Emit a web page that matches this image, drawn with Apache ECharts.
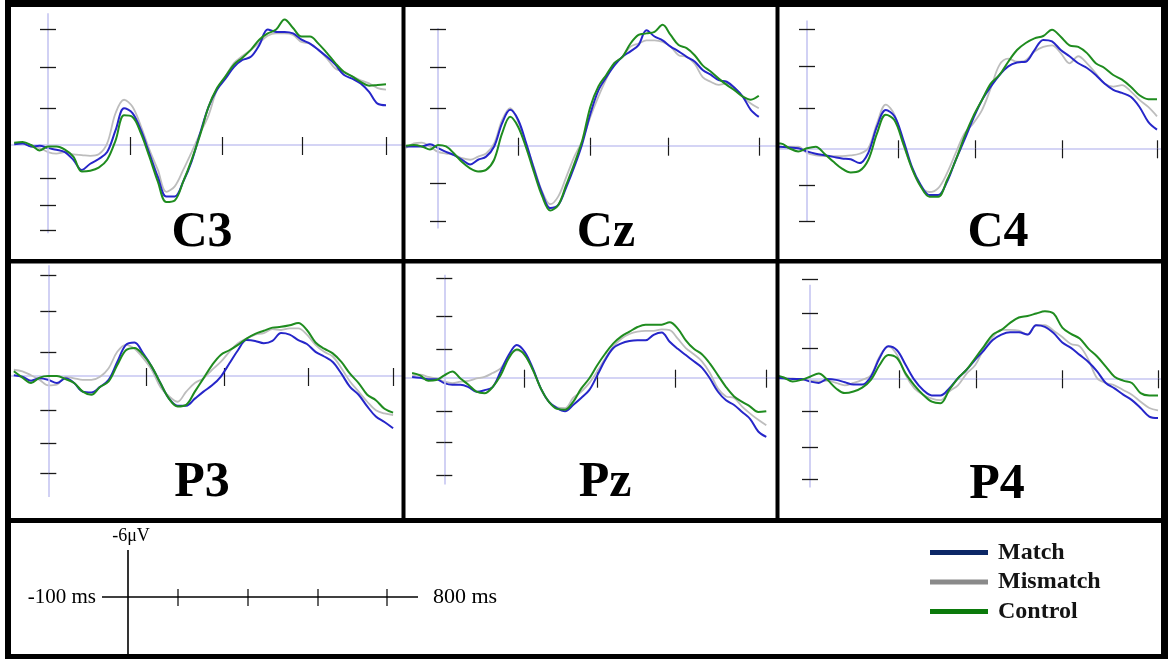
<!DOCTYPE html>
<html>
<head>
<meta charset="utf-8">
<script src="https://cdn.jsdelivr.net/npm/echarts@6/dist/echarts.min.js"></script>
<style>
  html, body { margin: 0; padding: 0; background: #fff; }
  #chart { width: 1168px; height: 659px; }
</style>
</head>
<body>
<div id="chart"></div>
<script>
// Sample times (ms) shared by every waveform
const times = [-80, -60, -40, -20, 0, 20, 40, 60, 80, 100, 120, 140, 160, 180, 200, 220, 240, 260, 280, 300,
  320, 340, 360, 380, 400, 420, 440, 460, 480, 500, 520, 540, 560, 580, 600, 620, 640, 660, 680, 700,
  720, 740, 760, 780, 800];

const channels = ['C3', 'Cz', 'C4', 'P3', 'Pz', 'P4'];
const conditions = ['Match', 'Mismatch', 'Control'];

// Grand-average amplitudes in µV (negative plotted upward)
const matchC3 = [-0.1, -0.2, 0.2, 0.1, 0.4, 0.6, 0.9, 1.9, 3.2, 2.4, 1.8, 0.9, -1.9, -4.7, -4.1, -1.9, 1.1, 4.1, 6.6, 6.6,
  4.7, 2.1, -1.5, -4.9, -7.1, -8.5, -10.0, -10.9, -11.3, -12.8, -14.8, -14.5, -14.5, -14.3, -13.5, -13.0, -12.2, -11.3, -10.3, -9.0,
  -8.5, -7.9, -6.8, -5.3, -5.1];
const mismatchC3 = [-0.2, -0.3, 0.2, 0.4, 0.9, 1.1, 0.9, 1.2, 1.3, 1.4, 1.2, -0.2, -4.1, -5.8, -4.9, -2.4, 0.6, 3.2, 6.0, 5.3,
  3.2, 0.9, -1.5, -3.8, -7.1, -8.8, -10.5, -11.4, -12.2, -13.1, -14.0, -14.3, -14.3, -14.1, -13.2, -13.0, -12.2, -11.1, -9.8, -9.4,
  -8.8, -8.3, -7.9, -7.3, -7.1];
const controlC3 = [-0.3, -0.4, 0.0, 0.7, 0.2, 0.2, 0.6, 1.5, 3.4, 3.3, 2.9, 1.9, -0.6, -3.8, -3.6, -1.5, 1.5, 4.7, 7.3, 7.1,
  4.7, 1.9, -1.3, -4.9, -7.3, -8.8, -10.3, -11.2, -12.2, -13.5, -14.3, -14.8, -16.1, -15.0, -13.9, -13.9, -13.0, -11.8, -10.5, -9.4,
  -8.8, -8.1, -7.6, -7.7, -7.8];

const matchCz = [0.1, 0.1, 0.1, -0.2, 0.3, 0.8, 1.2, 1.8, 2.4, 1.8, 1.4, 0.1, -2.9, -4.6, -3.3, -0.3, 3.1, 6.1, 8.0, 7.6,
  5.3, 2.7, -0.3, -4.1, -7.1, -8.8, -10.3, -11.4, -12.1, -12.9, -14.8, -14.0, -13.5, -12.7, -12.1, -11.4, -10.8, -9.7, -9.1, -8.4,
  -8.2, -7.4, -6.3, -4.6, -3.7];
const mismatchCz = [0.3, -0.3, -0.4, 0.1, 0.8, 1.0, 1.2, 1.6, 1.8, 1.4, 1.0, -0.3, -3.3, -4.8, -3.1, -0.1, 2.9, 5.9, 7.5, 6.5,
  4.0, 1.4, -0.7, -3.7, -6.3, -8.6, -10.6, -11.4, -12.7, -13.1, -13.5, -13.5, -13.3, -12.7, -11.6, -11.4, -10.5, -8.8, -8.2, -7.8,
  -8.0, -7.4, -6.3, -5.4, -4.8];
const controlCz = [0.0, -0.1, 0.1, 0.5, -0.1, 0.1, 1.0, 2.1, 2.9, 3.3, 3.1, 1.8, -1.6, -3.7, -2.4, 0.3, 3.5, 6.5, 8.3, 7.6,
  5.0, 2.3, -0.7, -5.0, -7.6, -9.1, -10.6, -11.4, -13.1, -14.2, -14.4, -14.6, -15.5, -14.2, -12.9, -12.5, -11.6, -10.3, -9.5, -8.6,
  -7.8, -7.1, -6.3, -5.9, -6.4];

const matchC4 = [-0.2, -0.2, -0.1, 0.0, 0.4, 0.7, 0.9, 1.1, 1.3, 1.4, 1.9, 0.6, -2.8, -4.9, -4.1, -1.1, 2.4, 4.7, 6.0, 6.0,
  4.3, 1.5, -1.1, -3.8, -6.2, -7.9, -9.4, -10.5, -11.0, -11.1, -12.6, -13.9, -13.7, -12.6, -11.8, -10.9, -10.3, -9.4, -8.3, -7.5,
  -7.1, -6.6, -5.3, -3.4, -2.4];
const mismatchC4 = [-0.1, -0.1, -0.2, -0.2, 0.6, 0.9, 1.0, 1.0, 1.0, 0.9, 0.7, 0.0, -3.2, -5.6, -4.3, -0.6, 2.6, 4.9, 5.6, 5.1,
  3.2, 0.6, -1.9, -3.2, -4.9, -7.7, -10.7, -11.5, -11.1, -11.3, -12.4, -13.0, -13.2, -12.2, -10.9, -11.8, -10.9, -9.6, -8.3, -7.9,
  -8.1, -7.3, -6.2, -5.3, -4.1];
const controlC4 = [-0.6, -0.6, 0.0, 0.4, 0.0, -0.2, 0.7, 1.7, 2.6, 3.1, 2.9, 1.5, -1.9, -4.3, -3.6, -0.6, 2.6, 4.9, 6.2, 6.2,
  4.1, 1.5, -1.5, -4.1, -6.2, -8.3, -9.4, -11.1, -12.6, -13.5, -14.1, -14.4, -15.2, -14.3, -13.2, -13.0, -12.2, -10.9, -10.3, -9.4,
  -8.8, -7.9, -6.8, -6.3, -6.3];

const matchP3 = [-0.1, 0.1, 0.6, 0.3, 0.5, 0.9, 0.3, 0.9, 2.0, 2.1, 1.4, 0.5, -1.8, -4.0, -4.3, -2.9, -1.2, 0.9, 2.9, 3.8,
  3.8, 2.9, 2.0, 1.2, 0.1, -1.6, -3.3, -4.6, -4.5, -4.2, -4.5, -5.5, -5.3, -4.6, -4.1, -3.1, -2.5, -1.8, -0.3, 1.4,
  2.4, 3.9, 5.2, 5.9, 6.7];
const mismatchP3 = [-0.8, -0.6, -0.1, 0.5, 1.2, 1.1, 0.1, 0.3, 0.5, 0.5, 0.1, -1.0, -3.1, -4.0, -3.5, -2.3, -0.8, 1.4, 2.6, 3.3,
  2.0, 0.9, 0.3, -0.8, -1.8, -3.1, -4.2, -4.8, -5.3, -5.5, -6.0, -5.9, -6.1, -6.1, -5.3, -4.0, -3.1, -2.5, -1.0, 0.7,
  2.0, 3.3, 4.4, 4.8, 5.0];
const controlP3 = [-0.6, 0.2, 0.9, 0.2, 0.0, 0.0, 0.4, 0.9, 2.0, 2.4, 1.4, 0.7, -1.4, -3.3, -3.6, -2.7, -1.2, 0.9, 2.9, 3.9,
  3.7, 2.0, 0.3, -1.4, -2.7, -3.3, -4.0, -4.8, -5.4, -5.8, -6.2, -6.3, -6.5, -6.8, -5.9, -4.3, -3.5, -2.9, -1.8, -0.3,
  0.9, 2.4, 3.1, 4.2, 4.7];

const matchPz = [-0.1, 0.0, 0.2, 0.2, 0.7, 0.9, 0.9, 1.2, 1.8, 1.6, 1.2, -0.8, -2.9, -4.2, -3.3, -1.2, 1.4, 3.1, 3.9, 4.3,
  3.5, 2.6, 1.6, -0.3, -2.3, -3.8, -4.4, -4.7, -4.8, -4.8, -5.5, -5.8, -4.6, -3.7, -2.9, -2.1, -1.3, 0.1, 1.8, 2.9,
  3.5, 4.4, 5.3, 6.9, 7.6];
const mismatchPz = [-0.3, -0.4, -0.1, 0.1, 0.5, 0.7, 0.5, 0.4, 0.1, -0.1, -0.6, -1.2, -2.7, -3.5, -2.9, -1.0, 1.4, 3.1, 3.8, 3.9,
  2.6, 1.8, 0.7, -0.8, -2.5, -4.0, -5.0, -5.6, -5.9, -6.0, -6.0, -6.2, -6.1, -5.0, -3.8, -3.0, -2.1, -0.6, 1.4, 2.4,
  2.6, 3.7, 4.6, 5.4, 6.1];
const controlPz = [-0.6, -0.3, 0.4, 0.3, -0.3, -0.8, 0.1, 0.9, 1.8, 2.0, 1.2, -0.3, -2.5, -3.6, -2.9, -1.0, 1.4, 3.1, 4.0, 4.1,
  3.1, 1.4, 0.1, -1.6, -3.1, -4.4, -5.3, -5.9, -6.5, -6.8, -6.8, -6.8, -7.1, -6.3, -4.8, -3.7, -3.0, -1.8, -0.3, 1.2,
  2.4, 3.1, 3.7, 4.4, 4.3];

const matchP4 = [-0.1, 0.0, 0.1, 0.1, 0.4, 0.6, 0.1, 0.2, 0.5, 0.8, 0.8, -0.2, -2.6, -4.1, -3.6, -1.7, 0.2, 1.5, 2.2, 2.2,
  1.3, 0.0, -1.1, -2.4, -3.6, -4.9, -5.6, -5.9, -5.9, -5.6, -6.8, -6.6, -5.8, -4.6, -3.9, -3.0, -2.1, -0.9, 0.6, 1.3,
  2.1, 2.8, 3.8, 4.9, 5.1];
const mismatchP4 = [0.0, 0.0, 0.0, 0.2, 0.3, 0.4, 0.3, 0.6, 0.9, 0.6, 0.2, -0.4, -2.8, -4.1, -3.0, -0.4, 1.3, 2.1, 2.6, 2.8,
  1.7, 0.9, -0.6, -1.7, -3.8, -5.3, -6.2, -6.2, -6.1, -5.6, -6.8, -6.8, -6.1, -5.3, -4.4, -4.1, -2.4, 0.0, 0.6, 0.9,
  1.5, 2.1, 3.0, 3.8, 4.1];
const controlP4 = [-0.4, -0.1, 0.4, 0.2, -0.2, -0.6, 0.2, 1.3, 1.9, 1.7, 1.2, 0.2, -1.7, -3.0, -2.6, -0.6, 0.9, 2.1, 3.0, 3.2,
  1.5, 0.0, -1.1, -2.6, -4.1, -5.6, -6.2, -7.1, -7.8, -8.0, -8.3, -8.6, -8.3, -6.5, -5.7, -5.1, -3.8, -2.8, -1.5, -0.2,
  0.3, 0.6, 1.9, 2.2, 2.2];

// Unlabelled tick marks: time ticks (ms) on the baseline, amplitude ticks (µV) on the vertical axis
const timeTicksC3 = [194, 412, 601, 800];
const timeTicksCz = [199, 379, 574, 800];
const timeTicksC4 = [208, 384, 583, 800];
const timeTicksP3 = [227, 408, 603, 800];
const timeTicksPz = [199, 380, 574, 800];
const timeTicksP4 = [205, 382, 579, 800];

const voltTicksC3 = [-14.9, -10.0, -4.7, 4.3, 7.7, 10.9];
const voltTicksCz = [-14.9, -10.1, -4.8, 4.8, 9.7];
const voltTicksC4 = [-15.2, -10.5, -5.1, 4.8, 9.4];
const voltTicksP3 = [-12.9, -8.3, -3.0, 4.4, 8.6, 12.5];
const voltTicksPz = [-12.7, -7.9, -3.6, 4.3, 8.3, 12.5];
const voltTicksP4 = [-12.7, -8.3, -3.9, 4.2, 8.8, 13.0];

// Extent (µV) of the drawn vertical axis in each panel
const voltSpanC3 = [-16.9, 11.3];
const voltSpanCz = [-15.1, 10.6];
const voltSpanC4 = [-16.4, 9.4];
const voltSpanP3 = [-14.2, 15.5];
const voltSpanPz = [-13.2, 13.7];
const voltSpanP4 = [-12.0, 14.0];

// Scale-bar key text
const scaleTimeStart = '-100 ms';
const scaleTimeEnd = '800 ms';
const scaleVolt = '-6\u03bcV';

// ---- layout (pixels) ----
const PX_PER_UV = 7.8;
const panelLayout = {
  C3: { left: 11,  top: 7,   right: 402,  bottom: 259, zeroX: 48,    zeroY: 145,   pxPerMs: 0.4225, labelX: 202, labelY: 233 },
  Cz: { left: 405, top: 7,   right: 776,  bottom: 259, zeroX: 438,   zeroY: 145.7, pxPerMs: 0.401,  labelX: 606, labelY: 233 },
  C4: { left: 779, top: 7,   right: 1161, bottom: 259, zeroX: 807,   zeroY: 148.3, pxPerMs: 0.4375, labelX: 998, labelY: 233 },
  P3: { left: 11,  top: 263, right: 402,  bottom: 518, zeroX: 48.3,  zeroY: 376,   pxPerMs: 0.431,  labelX: 202, labelY: 483 },
  Pz: { left: 405, top: 263, right: 776,  bottom: 518, zeroX: 444.3, zeroY: 377.7, pxPerMs: 0.4025, labelX: 605, labelY: 483 },
  P4: { left: 779, top: 263, right: 1161, bottom: 518, zeroX: 810,   zeroY: 378.3, pxPerMs: 0.435,  labelX: 997, labelY: 485 }
};

const waveData = {
  C3: [matchC3, mismatchC3, controlC3],
  Cz: [matchCz, mismatchCz, controlCz],
  C4: [matchC4, mismatchC4, controlC4],
  P3: [matchP3, mismatchP3, controlP3],
  Pz: [matchPz, mismatchPz, controlPz],
  P4: [matchP4, mismatchP4, controlP4]
};
const timeTicks = { C3: timeTicksC3, Cz: timeTicksCz, C4: timeTicksC4, P3: timeTicksP3, Pz: timeTicksPz, P4: timeTicksP4 };
const voltTicks = { C3: voltTicksC3, Cz: voltTicksCz, C4: voltTicksC4, P3: voltTicksP3, Pz: voltTicksPz, P4: voltTicksP4 };
const voltSpan = { C3: voltSpanC3, Cz: voltSpanCz, C4: voltSpanC4, P3: voltSpanP3, Pz: voltSpanPz, P4: voltSpanP4 };

// ---- styles ----
const lineColors = { Match: '#2626c9', Mismatch: '#bdbdbd', Control: '#1f8c1f' };
const legendColors = { Match: '#0c2766', Mismatch: '#8a8a8a', Control: '#0b7a0b' };
const axisLavender = '#c6c6f2';
const tickBlack = '#1a1a1a';
const serif = '"Liberation Serif", "Times New Roman", "DejaVu Serif", serif';
const drawOrder = [1, 0, 2]; // Mismatch under Match under Control

const grids = [], xAxes = [], yAxes = [], series = [], graphics = [];

channels.forEach((ch, k) => {
  const L = panelLayout[ch];
  const xMin = (L.left - L.zeroX) / L.pxPerMs;
  const xMax = (L.right - L.zeroX) / L.pxPerMs;
  const yMin = (L.top - L.zeroY) / PX_PER_UV;
  const yMax = (L.bottom - L.zeroY) / PX_PER_UV;

  grids.push({ left: L.left, top: L.top, width: L.right - L.left, height: L.bottom - L.top,
    containLabel: false, outerBoundsMode: 'none' });

  // two overlaid axes per direction so tick marks cross the axis line
  [false, true].forEach((inside, j) => {
    xAxes.push({
      type: 'value', gridIndex: k, min: xMin, max: xMax, position: 'bottom',
      axisLine: { show: j === 0, onZero: true, lineStyle: { color: axisLavender, width: 1.6 } },
      axisTick: { show: true, inside: inside, length: inside ? 8 : 10, customValues: timeTicks[ch],
        lineStyle: { color: tickBlack, width: 1.2 } },
      axisLabel: { show: false }, splitLine: { show: false }
    });
    yAxes.push({
      type: 'value', gridIndex: k, inverse: true, min: yMin, max: yMax, position: 'left', z: 10,
      axisLine: { show: false, onZero: true },
      axisTick: { show: true, inside: inside, length: 8, customValues: voltTicks[ch],
        lineStyle: { color: tickBlack, width: 1.3 } },
      axisLabel: { show: false }, splitLine: { show: false }
    });
  });

  drawOrder.forEach((ci, n) => {
    const cond = conditions[ci];
    const values = waveData[ch][ci];
    const s = {
      name: cond, type: 'line', xAxisIndex: 2 * k, yAxisIndex: 2 * k,
      data: times.map((t, i) => [t, values[i]]),
      showSymbol: false, symbol: 'none', smooth: 0.35, clip: true,
      lineStyle: { color: lineColors[cond], width: cond === 'Mismatch' ? 1.8 : 2 },
      itemStyle: { color: lineColors[cond] },
      emphasis: { disabled: true }, silent: true, z: 3 + n
    };
    if (n === 0) {
      s.markLine = {
        silent: true, symbol: ['none', 'none'], label: { show: false }, animation: false,
        lineStyle: { color: axisLavender, width: 1.6, type: 'solid' },
        data: [[{ coord: [0, voltSpan[ch][0]] }, { coord: [0, voltSpan[ch][1]] }]]
      };
    }
    series.push(s);
  });

  graphics.push({
    type: 'text', x: L.labelX, y: L.labelY, z: 50,
    style: { text: ch, fill: '#000', fontFamily: serif, fontWeight: 'bold', fontSize: 50,
      textAlign: 'center', textVerticalAlign: 'middle' }
  });
});

// ---- frame ----
const frameBars = [
  [5, 0, 6, 659], [5, 0, 1163, 7], [1161, 0, 7, 659], [5, 654, 1163, 5],
  [401.5, 0, 4, 521], [775.5, 0, 4, 521],
  [5, 259, 1163, 4.5], [5, 518, 1163, 5]
];
frameBars.forEach(b => graphics.push({
  type: 'rect', z: 100, shape: { x: b[0], y: b[1], width: b[2], height: b[3] }, style: { fill: '#000' }
}));

// ---- scale-bar key ----
const keyLine = { stroke: '#000', lineWidth: 1.6 };
graphics.push({ type: 'line', z: 60, shape: { x1: 102, y1: 597, x2: 418, y2: 597 }, style: keyLine });
graphics.push({ type: 'line', z: 60, shape: { x1: 128, y1: 550, x2: 128, y2: 655 }, style: keyLine });
[178, 248, 318, 387].forEach(x => graphics.push({
  type: 'line', z: 60, shape: { x1: x, y1: 589, x2: x, y2: 606 }, style: { stroke: '#000', lineWidth: 1.2 }
}));
graphics.push({ type: 'text', z: 60, x: 96, y: 597,
  style: { text: scaleTimeStart, fill: '#000', fontFamily: serif, fontSize: 21, textAlign: 'right', textVerticalAlign: 'middle' } });
graphics.push({ type: 'text', z: 60, x: 433, y: 597,
  style: { text: scaleTimeEnd, fill: '#000', fontFamily: serif, fontSize: 22, textAlign: 'left', textVerticalAlign: 'middle' } });
graphics.push({ type: 'text', z: 60, x: 131, y: 536,
  style: { text: scaleVolt, fill: '#000', fontFamily: serif, fontSize: 18, textAlign: 'center', textVerticalAlign: 'middle' } });

const chart = echarts.init(document.getElementById('chart'), null, { renderer: 'canvas' });
chart.setOption({
  animation: false,
  backgroundColor: '#ffffff',
  grid: grids,
  xAxis: xAxes,
  yAxis: yAxes,
  series: series,
  legend: {
    orient: 'vertical', left: 930, top: 540.5, padding: 0,
    itemWidth: 58, itemHeight: 5, itemGap: 5.5, icon: 'rect', selectedMode: false,
    textStyle: { fontFamily: serif, fontWeight: 'bold', fontSize: 24, color: '#141414', padding: [0, 0, 0, 5] },
    data: conditions.map(c => ({ name: c, itemStyle: { color: legendColors[c] } }))
  },
  graphic: { elements: graphics }
});
</script>
</body>
</html>
